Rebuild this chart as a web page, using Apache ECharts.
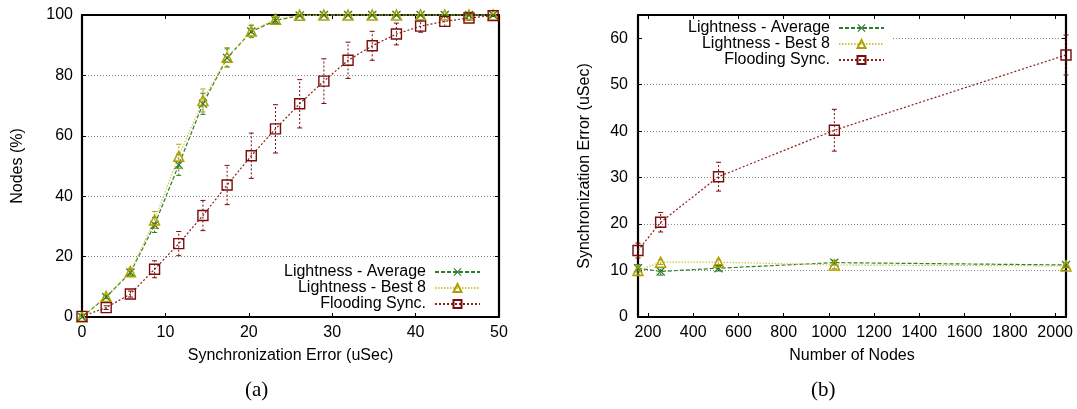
<!DOCTYPE html>
<html><head><meta charset="utf-8">
<script src="https://cdn.jsdelivr.net/npm/echarts@6/dist/echarts.min.js"></script>
<style>html,body{margin:0;padding:0;background:#fff}#c{width:1077px;height:409px}</style>
</head><body><div id="c"></div>
<script>
// ---- Data: chart (a) ----
const errA = [0, 2.9, 5.8, 8.7, 11.6, 14.5, 17.4, 20.3, 23.2, 26.1, 29.0, 31.9, 34.8, 37.7, 40.6, 43.5, 46.4, 49.3];
const avgA = [0, 6.6, 14.7, 30.5, 50.4, 70.6, 85.8, 94.5, 98.2, 99.8, 100, 100, 100, 100, 100, 100, 100, 100];
const avgErrA = [0, 0.5, 1, 2.5, 3.5, 3.5, 3, 2, 1, 0.3, 0, 0, 0, 0, 0, 0, 0, 0];
const bestA = [0, 6.8, 15.0, 32.1, 53.2, 71.7, 86.0, 94.7, 98.6, 99.9, 100, 100, 100, 100, 100, 100, 100, 100];
const bestErrA = [0, 0.6, 1.2, 2.8, 4, 3.8, 3.2, 2, 1, 0.3, 0, 0, 0, 0, 0, 0, 0, 0];
const floodA = [0.2, 3.1, 7.6, 15.8, 24.3, 33.6, 43.7, 53.4, 62.3, 70.6, 78.1, 85.0, 89.8, 93.7, 96.3, 97.9, 99.0, 99.8];
const floodErrA = [0, 0.6, 1, 2.8, 4, 5, 6.5, 7.5, 8, 8, 7.4, 6, 4.8, 3.6, 2, 1.7, 0.8, 0.3];
// ---- Data: chart (b) ----
const nodesB = [156, 256, 512, 1024, 2048];
const avgB = [10.5, 9.8, 10.5, 11.7, 11.2];
const avgErrB = [0.8, 0.8, 0.6, 0.5, 0.4];
const bestB = [10.0, 11.8, 11.8, 11.2, 11.0];
const bestErrB = [0.8, 0.5, 0.5, 0.8, 0.4];
const floodB = [14.3, 20.4, 30.2, 40.2, 56.4];
const floodErrB = [1.6, 2.1, 3.1, 4.5, 4.3];
// ---- Tick labels ----
const xTicksA = [0, 10, 20, 30, 40, 50];
const yTicksA = [0, 20, 40, 60, 80, 100];
const xTicksB = [200, 400, 600, 800, 1000, 1200, 1400, 1600, 1800, 2000];
const yTicksB = [0, 10, 20, 30, 40, 50, 60];
const names = ['Lightness - Average', 'Lightness - Best 8', 'Flooding Sync.'];

const FONT = 'Liberation Sans';
const cGreen = '#2a7a2a', cGreenLine = '#2f7d2f';
const cYel = '#b0a000', cYelLine = '#d2c640';
const cRed = '#7a0c0c', cRedLine = '#8b1c1c';
const xPath = 'path://M0,1 L1,0 L5,4 L9,0 L10,1 L6,5 L10,9 L9,10 L5,6 L1,10 L0,9 L4,5 Z';

function pairs(xs, ys) { return xs.map((x, i) => [x, ys[i]]); }
function errData(xs, ys, es) {
  const out = [];
  xs.forEach((x, i) => { if (es[i] > 0.25) out.push([x, ys[i] - es[i], ys[i] + es[i]]); });
  return out;
}
function errSeries(xi, yi, data, color) {
  return {
    type: 'custom', xAxisIndex: xi, yAxisIndex: yi, clip: false, silent: true, z: 1,
    data: data,
    renderItem: function (params, api) {
      const x = api.value(0);
      const p1 = api.coord([x, api.value(1)]);
      const p2 = api.coord([x, api.value(2)]);
      const w = 2.5;
      const st = { stroke: color, lineWidth: 1 };
      return {
        type: 'group', children: [
          { type: 'line', shape: { x1: p1[0], y1: p1[1], x2: p2[0], y2: p2[1] }, style: { stroke: color, lineWidth: 1, lineDash: [2, 2] } },
          { type: 'line', shape: { x1: p1[0] - w, y1: p1[1], x2: p1[0] + w, y2: p1[1] }, style: st },
          { type: 'line', shape: { x1: p2[0] - w, y1: p2[1], x2: p2[0] + w, y2: p2[1] }, style: st }
        ]
      };
    }
  };
}
function lineSeries(name, xi, yi, data, kind) {
  const base = { type: 'line', name: name, xAxisIndex: xi, yAxisIndex: yi, data: data, clip: false, z: 3 };
  if (kind === 0) {
    return Object.assign(base, { symbol: xPath, symbolSize: 9,
      itemStyle: { color: cGreen }, lineStyle: { color: cGreenLine, width: 1.2, type: [4, 2] } });
  } else if (kind === 1) {
    return Object.assign(base, { symbol: 'triangle', symbolSize: 10,
      itemStyle: { color: 'rgba(0,0,0,0)', borderColor: cYel, borderWidth: 1.5 }, lineStyle: { color: cYelLine, width: 1.2, type: [1.5, 1.5] } });
  }
  return Object.assign(base, { symbol: 'rect', symbolSize: 10,
    itemStyle: { color: 'rgba(0,0,0,0)', borderColor: cRed, borderWidth: 1.4 }, lineStyle: { color: cRedLine, width: 1.2, type: [2, 2] } });
}
function axisCommon() {
  return {
    type: 'value',
    axisLine: { onZero: false, lineStyle: { color: '#000', width: 2.2 } },
    axisTick: { inside: true, length: 4, lineStyle: { color: '#000', width: 1 } },
    axisLabel: { color: '#000', fontSize: 16, fontFamily: FONT, formatter: function (v) { return String(v); } },
    splitLine: { show: false },
    nameTextStyle: { color: '#000', fontSize: 16, fontFamily: FONT }
  };
}
function ax(extra) {
  const a = axisCommon();
  for (const k in extra) {
    if (typeof extra[k] === 'object' && !Array.isArray(extra[k]) && a[k]) a[k] = Object.assign({}, a[k], extra[k]);
    else a[k] = extra[k];
  }
  return a;
}
const gridSplit = { show: true, lineStyle: { color: '#8a8a8a', width: 1, type: [1, 2] } };

function legendItem(name, right, top) {
  return {
    data: [name], right: right, top: top, orient: 'vertical', align: 'right',
    itemWidth: 45, itemHeight: 10, padding: 0, itemGap: 0,
    textStyle: { fontSize: 16, color: '#000', fontFamily: FONT, padding: [0, 4, 0, 0] },
    selectedMode: false
  };
}

const option = {
  animation: false,
  textStyle: { fontFamily: FONT },
  grid: [
    { left: 82, top: 15, width: 417, height: 302 },
    { left: 638, top: 15, width: 428, height: 302 }
  ],
  xAxis: [
    ax({ gridIndex: 0, position: 'bottom', min: 0, max: 50, interval: 10,
      axisTick: { customValues: xTicksA }, axisLabel: { customValues: xTicksA, margin: 8 },
      name: 'Synchronization Error (uSec)', nameLocation: 'middle', nameGap: 31 }),
    ax({ gridIndex: 0, position: 'top', min: 0, max: 50, interval: 10,
      axisTick: { customValues: xTicksA }, axisLabel: { show: false } }),
    ax({ gridIndex: 1, position: 'bottom', min: 156, max: 2048,
      axisTick: { customValues: xTicksB }, axisLabel: { customValues: xTicksB, margin: 8 },
      name: 'Number of Nodes', nameLocation: 'middle', nameGap: 31 }),
    ax({ gridIndex: 1, position: 'top', min: 156, max: 2048,
      axisTick: { customValues: xTicksB }, axisLabel: { show: false } })
  ],
  yAxis: [
    ax({ gridIndex: 0, position: 'left', min: 0, max: 100, interval: 20,
      axisTick: { customValues: yTicksA }, axisLabel: { customValues: yTicksA, margin: 9 },
      splitLine: gridSplit,
      name: 'Nodes (%)', nameLocation: 'middle', nameGap: 56 }),
    ax({ gridIndex: 0, position: 'right', min: 0, max: 100, interval: 20,
      axisTick: { customValues: yTicksA }, axisLabel: { show: false } }),
    ax({ gridIndex: 1, position: 'left', min: 0, max: 65, interval: 10,
      axisTick: { customValues: yTicksB }, axisLabel: { customValues: yTicksB, margin: 10 },
      splitLine: gridSplit,
      name: 'Synchronization Error (uSec)', nameLocation: 'middle', nameGap: 45 }),
    ax({ gridIndex: 1, position: 'right', min: 0, max: 65, interval: 10,
      axisTick: { customValues: yTicksB }, axisLabel: { show: false } })
  ],
  legend: [
    legendItem(names[0], 596, 264),
    legendItem(names[1], 596, 280),
    legendItem(names[2], 596, 296),
    legendItem(names[0], 192, 20),
    legendItem(names[1], 192, 36),
    legendItem(names[2], 192, 52)
  ],
  graphic: [
    { type: 'rect', z: 1, shape: { x: 643, y: 33, width: 250, height: 12 }, style: { fill: '#fff' } },
    { type: 'text', left: 245, top: 380, style: { text: '(a)', fontSize: 21, fontFamily: 'Liberation Serif', fill: '#000' } },
    { type: 'text', left: 811, top: 380, style: { text: '(b)', fontSize: 21, fontFamily: 'Liberation Serif', fill: '#000' } }
  ],
  series: [
    errSeries(0, 0, errData(errA, avgA, avgErrA), cGreen),
    errSeries(0, 0, errData(errA, bestA, bestErrA), cYel),
    errSeries(0, 0, errData(errA, floodA, floodErrA), cRed),
    lineSeries(names[0], 0, 0, pairs(errA, avgA), 0),
    lineSeries(names[1], 0, 0, pairs(errA, bestA), 1),
    lineSeries(names[2], 0, 0, pairs(errA, floodA), 2),
    errSeries(2, 2, errData(nodesB, avgB, avgErrB), cGreen),
    errSeries(2, 2, errData(nodesB, bestB, bestErrB), cYel),
    errSeries(2, 2, errData(nodesB, floodB, floodErrB), cRed),
    lineSeries(names[0], 2, 2, pairs(nodesB, avgB), 0),
    lineSeries(names[1], 2, 2, pairs(nodesB, bestB), 1),
    lineSeries(names[2], 2, 2, pairs(nodesB, floodB), 2)
  ]
};
const chart = echarts.init(document.getElementById('c'), null, { renderer: 'canvas' });
chart.setOption(option);
</script></body></html>
